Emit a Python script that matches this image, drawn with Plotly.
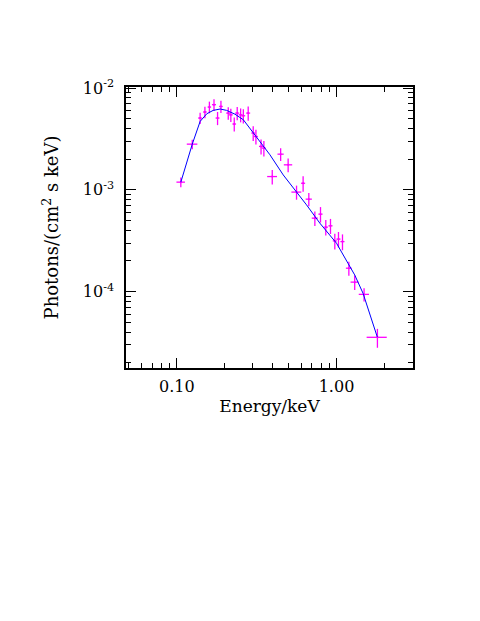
import plotly.graph_objects as go

# Data points (energy in keV, flux in photons/(cm^2 s keV))
energy = [0.106, 0.125, 0.140, 0.150, 0.160, 0.171, 0.180, 0.189, 0.210, 0.218,
          0.229, 0.239, 0.251, 0.261, 0.280, 0.301, 0.313, 0.337, 0.351, 0.396,
          0.447, 0.498, 0.562, 0.618, 0.671, 0.732, 0.794, 0.857, 0.917, 0.976,
          1.029, 1.090, 1.195, 1.30, 1.488, 1.804]
flux = [1.19e-3, 2.81e-3, 5.07e-3, 5.81e-3, 6.50e-3, 6.86e-3, 5.07e-3, 6.59e-3, 5.67e-3, 5.45e-3,
        4.43e-3, 5.67e-3, 5.45e-3, 5.34e-3, 5.67e-3, 3.61e-3, 3.34e-3, 2.67e-3, 2.57e-3, 1.35e-3,
        2.24e-3, 1.76e-3, 9.5e-4, 1.16e-3, 8.1e-4, 5.27e-4, 5.77e-4, 4.3e-4, 4.43e-4, 3.15e-4,
        3.28e-4, 3.10e-4, 1.70e-4, 1.24e-4, 9.4e-5, 3.56e-5]
energy_err = [0.0065, 0.0095, 0.004, 0.004, 0.004, 0.005, 0.005, 0.005, 0.006, 0.006,
              0.006, 0.007, 0.007, 0.007, 0.008, 0.008, 0.009, 0.010, 0.010, 0.028,
              0.020, 0.030, 0.040, 0.018, 0.030, 0.032, 0.024, 0.026, 0.027, 0.028,
              0.030, 0.032, 0.050, 0.075, 0.11, 0.26]
flux_err = [1.3e-4, 3.0e-4, 6.5e-4, 7.5e-4, 8.5e-4, 9.0e-4, 7.5e-4, 9.0e-4, 8.0e-4, 8.0e-4,
            7.0e-4, 8.5e-4, 8.5e-4, 8.5e-4, 9.0e-4, 6.0e-4, 5.5e-4, 4.5e-4, 4.5e-4, 2.2e-4,
            3.2e-4, 2.7e-4, 1.5e-4, 2.0e-4, 1.2e-4, 8.5e-5, 1.0e-4, 7.5e-5, 7.5e-5, 5.5e-5,
            5.7e-5, 5.5e-5, 2.7e-5, 2.0e-5, 1.4e-5, 7.5e-6]

# Model curve
model_energy = [0.106, 0.125, 0.140, 0.154, 0.169, 0.187, 0.205, 0.231, 0.261, 0.301,
                0.383, 0.464, 0.562, 0.649, 0.786, 1.00, 1.18, 1.30, 1.466, 1.80]
model_flux = [1.19e-3, 2.81e-3, 4.70e-3, 5.58e-3, 6.03e-3, 6.22e-3, 6.03e-3, 5.54e-3, 4.88e-3, 3.61e-3,
              2.21e-3, 1.40e-3, 9.62e-4, 7.12e-4, 4.71e-4, 2.99e-4, 1.90e-4, 1.46e-4, 9.64e-5, 3.59e-5]

y_tickvals = [1e-4, 1e-3, 1e-2]
y_ticktext = ["10<sup>-4</sup>", "10<sup>-3</sup>", "10<sup>-2</sup>"]
x_tickvals = [0.1, 1.0]
x_ticktext = ["0.10", "1.00"]

FONT = "DejaVu Serif"

fig = go.Figure()
fig.add_trace(go.Scatter(
    x=energy, y=flux, mode="markers",
    marker=dict(size=2, color="#ff00ff"),
    error_x=dict(type="data", array=energy_err, color="#ff00ff", thickness=1.3, width=0),
    error_y=dict(type="data", array=flux_err, color="#ff00ff", thickness=1.3, width=0),
    showlegend=False,
))
fig.add_trace(go.Scatter(
    x=model_energy, y=model_flux, mode="lines",
    line=dict(color="#0000ff", width=1),
    showlegend=False,
))

axis_common = dict(
    showgrid=False, zeroline=False, showline=True, linecolor="black", linewidth=1.5,
    ticks="inside", tickcolor="black", tickwidth=1.2, ticklen=10, mirror="allticks",
    tickfont=dict(family=FONT, size=16, color="black"),
    minor=dict(ticks="inside", ticklen=5, tickcolor="black", tickwidth=1.2, dtick="D1", showgrid=False),
)

fig.update_xaxes(
    type="log", range=[-1.318, 0.479],
    tickvals=x_tickvals, ticktext=x_ticktext,
    title=dict(text="Energy/keV", font=dict(family=FONT, size=17, color="black"), standoff=4),
    ticklabelstandoff=3,
    **axis_common,
)
fig.update_yaxes(
    type="log", range=[-4.75, -1.99],
    tickvals=y_tickvals, ticktext=y_ticktext,
    title=dict(text="Photons/(cm<sup>2</sup> s keV)", font=dict(family=FONT, size=18, color="black"), standoff=19),
    ticklabelstandoff=7,
    **axis_common,
)

fig.update_layout(
    width=480, height=621,
    margin=dict(l=118, r=75, t=79, b=261, autoexpand=False),
    paper_bgcolor="white", plot_bgcolor="white",
)

fig.write_html("out.html")
